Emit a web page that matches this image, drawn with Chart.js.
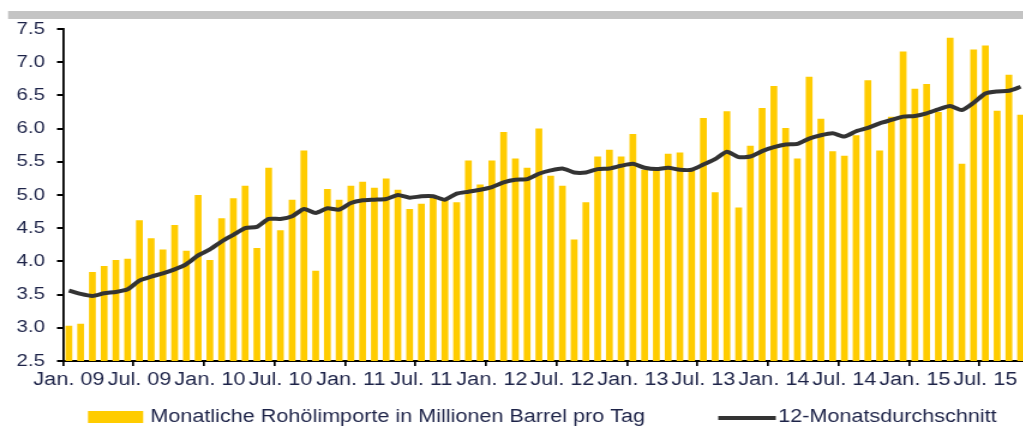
<!DOCTYPE html>
<html>
<head>
<meta charset="utf-8">
<script src="https://cdn.jsdelivr.net/npm/chart.js@4.4.1/dist/chart.umd.min.js"></script>
<style>
    html, body { margin: 0; padding: 0; background: #fff; overflow: hidden; width: 1023px; height: 427px; }
    #wrap { position: absolute; left: 0; top: 0; width: 858px; height: 427px; transform: scaleX(1.2); transform-origin: 0 0; }
</style>
</head>
<body>
<div id="wrap"><canvas id="chartImports" width="858" height="427"></canvas></div>
<script>
// Monatswerte Jan. 2009 - Okt. 2015
const startYear = 2009;
const monthNames = ['Jan.', 'Feb.', 'Mär.', 'Apr.', 'Mai', 'Jun.', 'Jul.', 'Aug.', 'Sep.', 'Okt.', 'Nov.', 'Dez.'];

const imports = [
    3.03, 3.06, 3.84, 3.93, 4.02, 4.04, 4.62, 4.35, 4.18, 4.55, 4.16, 5.00,
    4.02, 4.65, 4.95, 5.14, 4.20, 5.41, 4.47, 4.93, 5.67, 3.86, 5.09, 4.93,
    5.14, 5.20, 5.11, 5.25, 5.08, 4.79, 4.87, 4.96, 4.92, 4.89, 5.52, 5.16,
    5.52, 5.95, 5.55, 5.41, 6.00, 5.29, 5.14, 4.33, 4.89, 5.58, 5.68, 5.58,
    5.92, 5.38, 5.40, 5.62, 5.64, 5.38, 6.16, 5.04, 6.26, 4.81, 5.74, 6.31,
    6.64, 6.01, 5.55, 6.78, 6.15, 5.66, 5.59, 5.90, 6.73, 5.67, 6.18, 7.16,
    6.60, 6.67, 6.25, 7.37, 5.47, 7.19, 7.25, 6.27, 6.81, 6.21
];

const avg12 = [
    3.56, 3.51, 3.48, 3.52, 3.54, 3.58, 3.71, 3.77, 3.82, 3.88, 3.96, 4.09,
    4.18, 4.30, 4.40, 4.50, 4.52, 4.64, 4.64, 4.68, 4.79, 4.73, 4.80, 4.78,
    4.88, 4.92, 4.93, 4.94, 5.00, 4.96, 4.98, 4.98, 4.93, 5.02, 5.05, 5.08,
    5.12, 5.19, 5.23, 5.24, 5.32, 5.37, 5.40, 5.34, 5.34, 5.39, 5.40, 5.44,
    5.47, 5.41, 5.39, 5.41, 5.38, 5.38, 5.46, 5.54, 5.65, 5.57, 5.58, 5.66,
    5.72, 5.76, 5.77, 5.85, 5.90, 5.93, 5.88, 5.96, 6.01, 6.08, 6.13, 6.18,
    6.19, 6.23, 6.29, 6.34, 6.28, 6.39, 6.53, 6.56, 6.57, 6.63
];

const yTicks = [2.5, 3.0, 3.5, 4.0, 4.5, 5.0, 5.5, 6.0, 6.5, 7.0, 7.5];

var labels = [];
for (let i = 0; i < imports.length; i++) {
    let m = i % 12;
    let y = startYear + Math.floor(i / 12);
    labels.push(monthNames[m] + ' ' + String(y).slice(2));
}

const fontName = '"Liberation Sans", Arial, sans-serif';
const textColor = '#1d2348';

// grauer Balken oben + Legende unten
const extras = {
    id: 'extras',
    beforeDraw(chart) {
        const ctx = chart.ctx;
        ctx.save();
        ctx.fillStyle = '#c4c4c4';
        ctx.fillRect(6.7, 11, chart.width, 8);
        ctx.restore();
    },
    afterDraw(chart) {
        const ctx = chart.ctx;
        const ds = chart.data.datasets;
        const cy = 417;
        ctx.save();
        ctx.font = '18px ' + fontName;
        ctx.textBaseline = 'middle';
        ctx.fillStyle = textColor;

        // Balken-Eintrag
        let x = 73.3;
        ctx.fillStyle = ds[1].backgroundColor;
        ctx.fillRect(x, cy - 6, 46, 12);
        ctx.fillStyle = textColor;
        ctx.fillText(ds[1].label, x + 52, cy);
        x = x + 52 + ctx.measureText(ds[1].label).width + 61;

        // Linien-Eintrag
        ctx.strokeStyle = ds[0].borderColor;
        ctx.lineWidth = 4;
        ctx.beginPath();
        ctx.moveTo(x, cy + 1);
        ctx.lineTo(x + 48, cy + 1);
        ctx.stroke();
        ctx.fillText(ds[0].label, x + 50, cy);
        ctx.restore();
    }
};

const config = {
    type: 'bar',
    data: {
        labels: labels,
        datasets: [{
            type: 'line',
            label: '12-Monatsdurchschnitt',
            data: avg12,
            borderColor: '#333333',
            borderWidth: 4,
            pointRadius: 0,
            tension: 0.2,
            order: 0
        }, {
            type: 'bar',
            label: 'Monatliche Rohölimporte in Millionen Barrel pro Tag',
            data: imports,
            backgroundColor: '#FFCC00',
            borderWidth: 0,
            categoryPercentage: 1.0,
            barPercentage: 0.58,
            order: 1
        }]
    },
    options: {
        responsive: false,
        animation: false,
        layout: { padding: { top: 29, right: 2.6, bottom: 0, left: 0 } },
        plugins: {
            legend: { display: false },
            tooltip: { enabled: false }
        },
        scales: {
            x: {
                offset: true,
                afterFit: function (scale) { scale.height = 66; },
                grid: {
                    display: true,
                    drawOnChartArea: false,
                    offset: true,
                    tickLength: 5,
                    lineWidth: 1.7,
                    color: function (c) { return c.index % 6 === 0 ? '#000' : 'rgba(0,0,0,0)'; }
                },
                border: { display: true, color: '#000', width: 2 },
                ticks: {
                    autoSkip: false,
                    maxRotation: 0,
                    padding: 3,
                    color: textColor,
                    font: { family: fontName, size: 18 },
                    callback: function (val, i) {
                        return i % 6 === 0 ? this.getLabelForValue(val) : '';
                    }
                }
            },
            y: {
                min: yTicks[0],
                max: yTicks[yTicks.length - 1],
                afterFit: function (scale) { scale.width = 52.5; },
                afterBuildTicks: function (scale) {
                    scale.ticks = yTicks.map(v => ({ value: v }));
                },
                grid: {
                    display: true,
                    drawOnChartArea: false,
                    tickLength: 5,
                    lineWidth: 2,
                    color: '#000'
                },
                border: { display: true, color: '#000', width: 1.8 },
                ticks: {
                    padding: 10,
                    color: textColor,
                    font: { family: fontName, size: 17 },
                    callback: function (v) { return Number(v).toFixed(1); }
                }
            }
        }
    },
    plugins: [extras]
};

var element = document.getElementById('chartImports');
if (element) {
    new Chart(element, config);
}
</script>
</body>
</html>
